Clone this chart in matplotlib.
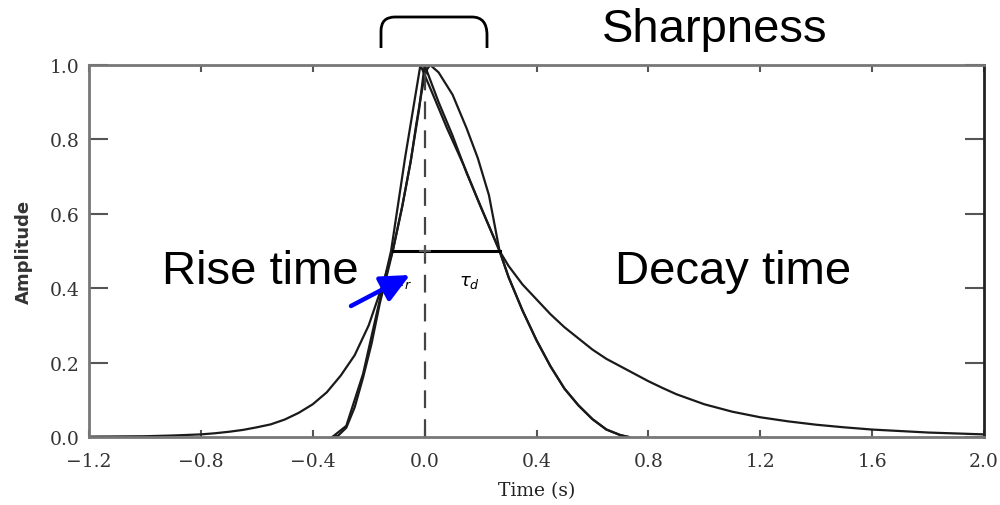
import matplotlib
matplotlib.use("Agg")
import matplotlib.pyplot as plt
from matplotlib.path import Path
from matplotlib.patches import PathPatch, FancyArrowPatch

# pulse with long exponential tails
time_a = [-1.2, -1.0, -0.9, -0.8, -0.75, -0.7, -0.65, -0.6, -0.55, -0.5, -0.45, -0.4,
          -0.35, -0.3, -0.25, -0.2, -0.15, -0.114, -0.08, -0.05, -0.02, 0.0,
          0.05, 0.1, 0.15, 0.2, 0.268, 0.3, 0.35, 0.4, 0.45, 0.5, 0.55, 0.6,
          0.65, 0.7, 0.75, 0.8, 0.85, 0.9, 1.0, 1.1, 1.2, 1.3, 1.4, 1.5, 1.6, 1.8, 2.0]
amp_a = [0.001, 0.002, 0.004, 0.007, 0.01, 0.014, 0.019, 0.026, 0.034, 0.047, 0.065, 0.088,
         0.12, 0.165, 0.22, 0.30, 0.41, 0.50, 0.62, 0.74, 0.88, 1.0,
         0.90, 0.81, 0.71, 0.62, 0.50, 0.46, 0.41, 0.37, 0.33, 0.295, 0.265, 0.235,
         0.21, 0.19, 0.17, 0.15, 0.132, 0.115, 0.088, 0.068, 0.053, 0.042, 0.033, 0.026, 0.02, 0.012, 0.007]

# narrow rounded pulse
time_b = [-0.33, -0.31, -0.28, -0.25, -0.22, -0.19, -0.16, -0.13, -0.114, -0.08, -0.05,
          -0.03, -0.01, 0.0, 0.01, 0.02, 0.05, 0.1, 0.15, 0.19, 0.23, 0.268, 0.3, 0.35,
          0.4, 0.45, 0.5, 0.55, 0.6, 0.65, 0.7, 0.73]
amp_b = [0.0, 0.003, 0.025, 0.08, 0.16, 0.25, 0.36, 0.45, 0.50, 0.62, 0.74,
         0.84, 0.93, 0.97, 0.99, 1.0, 0.98, 0.92, 0.83, 0.75, 0.65, 0.50, 0.43, 0.34,
         0.26, 0.19, 0.13, 0.085, 0.048, 0.02, 0.005, 0.0]

# triangular pulse
time_c = [-0.33, -0.28, -0.22, -0.16, -0.12, -0.07, -0.015, 0.03, 0.08, 0.14, 0.2, 0.268,
          0.3, 0.35, 0.4, 0.45, 0.5, 0.55, 0.6, 0.65, 0.7, 0.73]
amp_c = [0.0, 0.03, 0.17, 0.37, 0.50, 0.75, 1.0, 0.92, 0.83, 0.73, 0.62, 0.50,
         0.43, 0.34, 0.26, 0.19, 0.13, 0.085, 0.048, 0.02, 0.005, 0.0]

half_level = 0.5
rise_half = -0.114
decay_half = 0.268
x_ticks = [-1.2, -0.8, -0.4, 0.0, 0.4, 0.8, 1.2, 1.6, 2.0]
y_ticks = [0.0, 0.2, 0.4, 0.6, 0.8, 1.0]

W, H = 1000, 506


def fpx(x, y):
    # image pixel (origin top-left) -> figure fraction
    return x / W, 1 - y / H


fig = plt.figure(figsize=(10, 5.06), dpi=100)
ax = fig.add_axes([0.089, 0.1344, 0.895, 0.7352])

for t, a in [(time_a, amp_a), (time_b, amp_b), (time_c, amp_c)]:
    ax.plot(t, a, color="#1a1a1a", lw=1.6)

ax.plot([0, 0], [0, 1], color="#444444", lw=1.6, dashes=(8, 5))
ax.plot([rise_half, decay_half], [half_level, half_level], color="black", lw=2.2)
ax.plot([0], [half_level], marker="+", ms=9, mew=1.5, color="#555555")

ax.set_xlim(-1.2, 2.0)
ax.set_ylim(0, 1.0)
ax.set_xticks(x_ticks)
ax.set_yticks(y_ticks)
ax.set_xticklabels(["\u22121.2", "\u22120.8", "\u22120.4", "0.0", "0.4", "0.8", "1.2", "1.6", "2.0"])
ax.set_yticklabels(["0.0", "0.2", "0.4", "0.6", "0.8", "1.0"])
ax.tick_params(axis="both", direction="in", top=True, right=True, colors="#555555",
               labelcolor="#333333", labelsize=13.5, width=1.5)
ax.tick_params(axis="y", length=14, pad=7)
ax.tick_params(axis="x", length=5, pad=11)
for lab in ax.get_xticklabels() + ax.get_yticklabels():
    lab.set_family("DejaVu Serif")
for side in ["left", "top", "bottom"]:
    ax.spines[side].set_color("#777777")
    ax.spines[side].set_linewidth(2)
ax.spines["right"].set_color("#222222")
ax.spines["right"].set_linewidth(2)

ax.set_xlabel("Time (s)", family="DejaVu Serif", fontsize=13.5, color="#222222", labelpad=8)
ax.set_ylabel("Amplitude", family="DejaVu Sans", fontsize=13, fontweight="bold",
              color="#333333", labelpad=12)

# tau labels
ax.text(-0.075, 0.42, r"$\tau_r$", fontsize=13, family="DejaVu Serif", ha="center", va="center")
ax.text(0.16, 0.42, r"$\tau_d$", fontsize=13, family="DejaVu Serif", ha="center", va="center")

# big annotations
fig.text(*fpx(715, 30), "Sharpness", family="Liberation Sans", fontsize=34, ha="center", va="center")
fig.text(*fpx(260, 272), "Rise time", family="Liberation Sans", fontsize=34, ha="center", va="center")
fig.text(*fpx(733, 272), "Decay time", family="Liberation Sans", fontsize=34, ha="center", va="center")

# bracket above the peak
verts = [fpx(381, 49), fpx(381, 32), fpx(381, 18), fpx(395, 18), fpx(472, 18),
         fpx(487, 18), fpx(487, 36), fpx(487, 49)]
codes = [Path.MOVETO, Path.LINETO, Path.CURVE3, Path.CURVE3, Path.LINETO,
         Path.CURVE3, Path.CURVE3, Path.LINETO]
fig.add_artist(PathPatch(Path(verts, codes), fill=False, lw=2, color="black",
                         transform=fig.transFigure))

# blue arrow pointing at rise time
fig.add_artist(FancyArrowPatch(
    fpx(351, 307), fpx(410, 276), transform=fig.transFigure,
    arrowstyle="-|>,head_length=1.6,head_width=0.75", mutation_scale=11,
    color="#0000ff", lw=3.2, shrinkA=0, shrinkB=0))

fig.savefig("out.png", dpi=100)
